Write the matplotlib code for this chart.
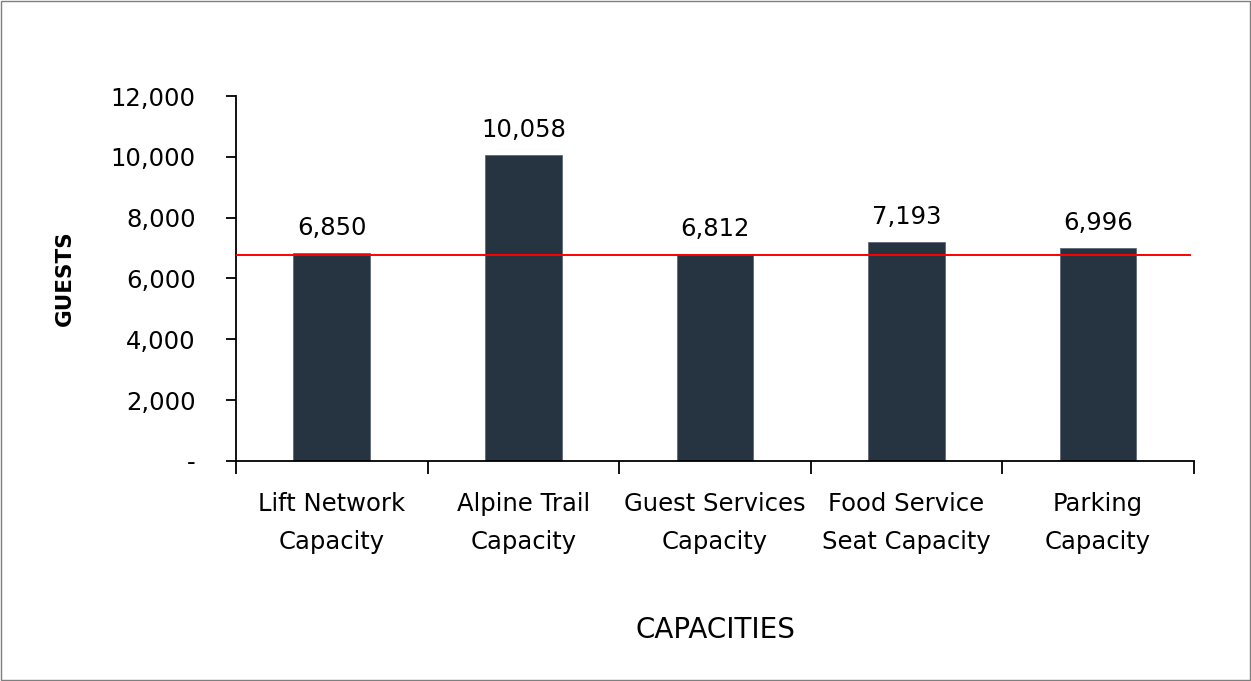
import matplotlib.pyplot as plt
from matplotlib.patches import Rectangle

# capacity figures per category
categories = ['Lift Network\nCapacity', 'Alpine Trail\nCapacity', 'Guest Services\nCapacity',
              'Food Service\nSeat Capacity', 'Parking\nCapacity']
guests = [6850, 10058, 6812, 7193, 6996]
design_capacity = 6760
yticks = [0, 2000, 4000, 6000, 8000, 10000, 12000]

plt.rcParams['font.family'] = ['DejaVu Sans']

fig = plt.figure(figsize=(12.51, 6.81), dpi=100)
fig.patches.append(Rectangle((0.001, 0.001), 0.998, 0.997, transform=fig.transFigure,
                             fill=False, edgecolor='#7f7f7f', linewidth=1.0))
ax = fig.add_axes([0.1886, 0.3231, 0.7658, 0.5359])

x = range(len(categories))
bars = ax.bar(x, guests, width=0.4, color='#263441', edgecolor='#5d6b78', linewidth=0.6, zorder=2)
for b, v in zip(bars, guests):
    ax.text(b.get_x() + b.get_width() / 2, v + 420, f'{v:,}', ha='center', va='bottom', fontsize=17.5)

ax.plot([-0.5, 4.48], [design_capacity, design_capacity], color='#ff0000', linewidth=1.4, zorder=3)

ax.set_xlim(-0.5, 4.5)
ax.set_ylim(0, 12000)
ax.set_yticks(yticks)
ax.set_yticklabels(['-' if t == 0 else f'{t:,}' for t in yticks], fontsize=17.5)
ax.tick_params(axis='y', length=7, width=1.3, pad=22)

# category labels centred, tick marks at the boundaries
ax.set_xticks([i for i in x])
ax.set_xticklabels(categories, fontsize=17.5, linespacing=1.75)
ax.tick_params(axis='x', length=0, pad=22)
ax.set_xticks([i - 0.5 for i in range(len(categories) + 1)], minor=True)
ax.tick_params(axis='x', which='minor', length=9, width=1.3, direction='out')

for s in ['top', 'right']:
    ax.spines[s].set_visible(False)
for s in ['left', 'bottom']:
    ax.spines[s].set_linewidth(1.3)

ax.set_ylabel('GUESTS', fontsize=15.5, fontweight='bold', labelpad=26)
ax.set_xlabel('CAPACITIES', fontsize=20, labelpad=45)

fig.savefig('out.png', dpi=100)
